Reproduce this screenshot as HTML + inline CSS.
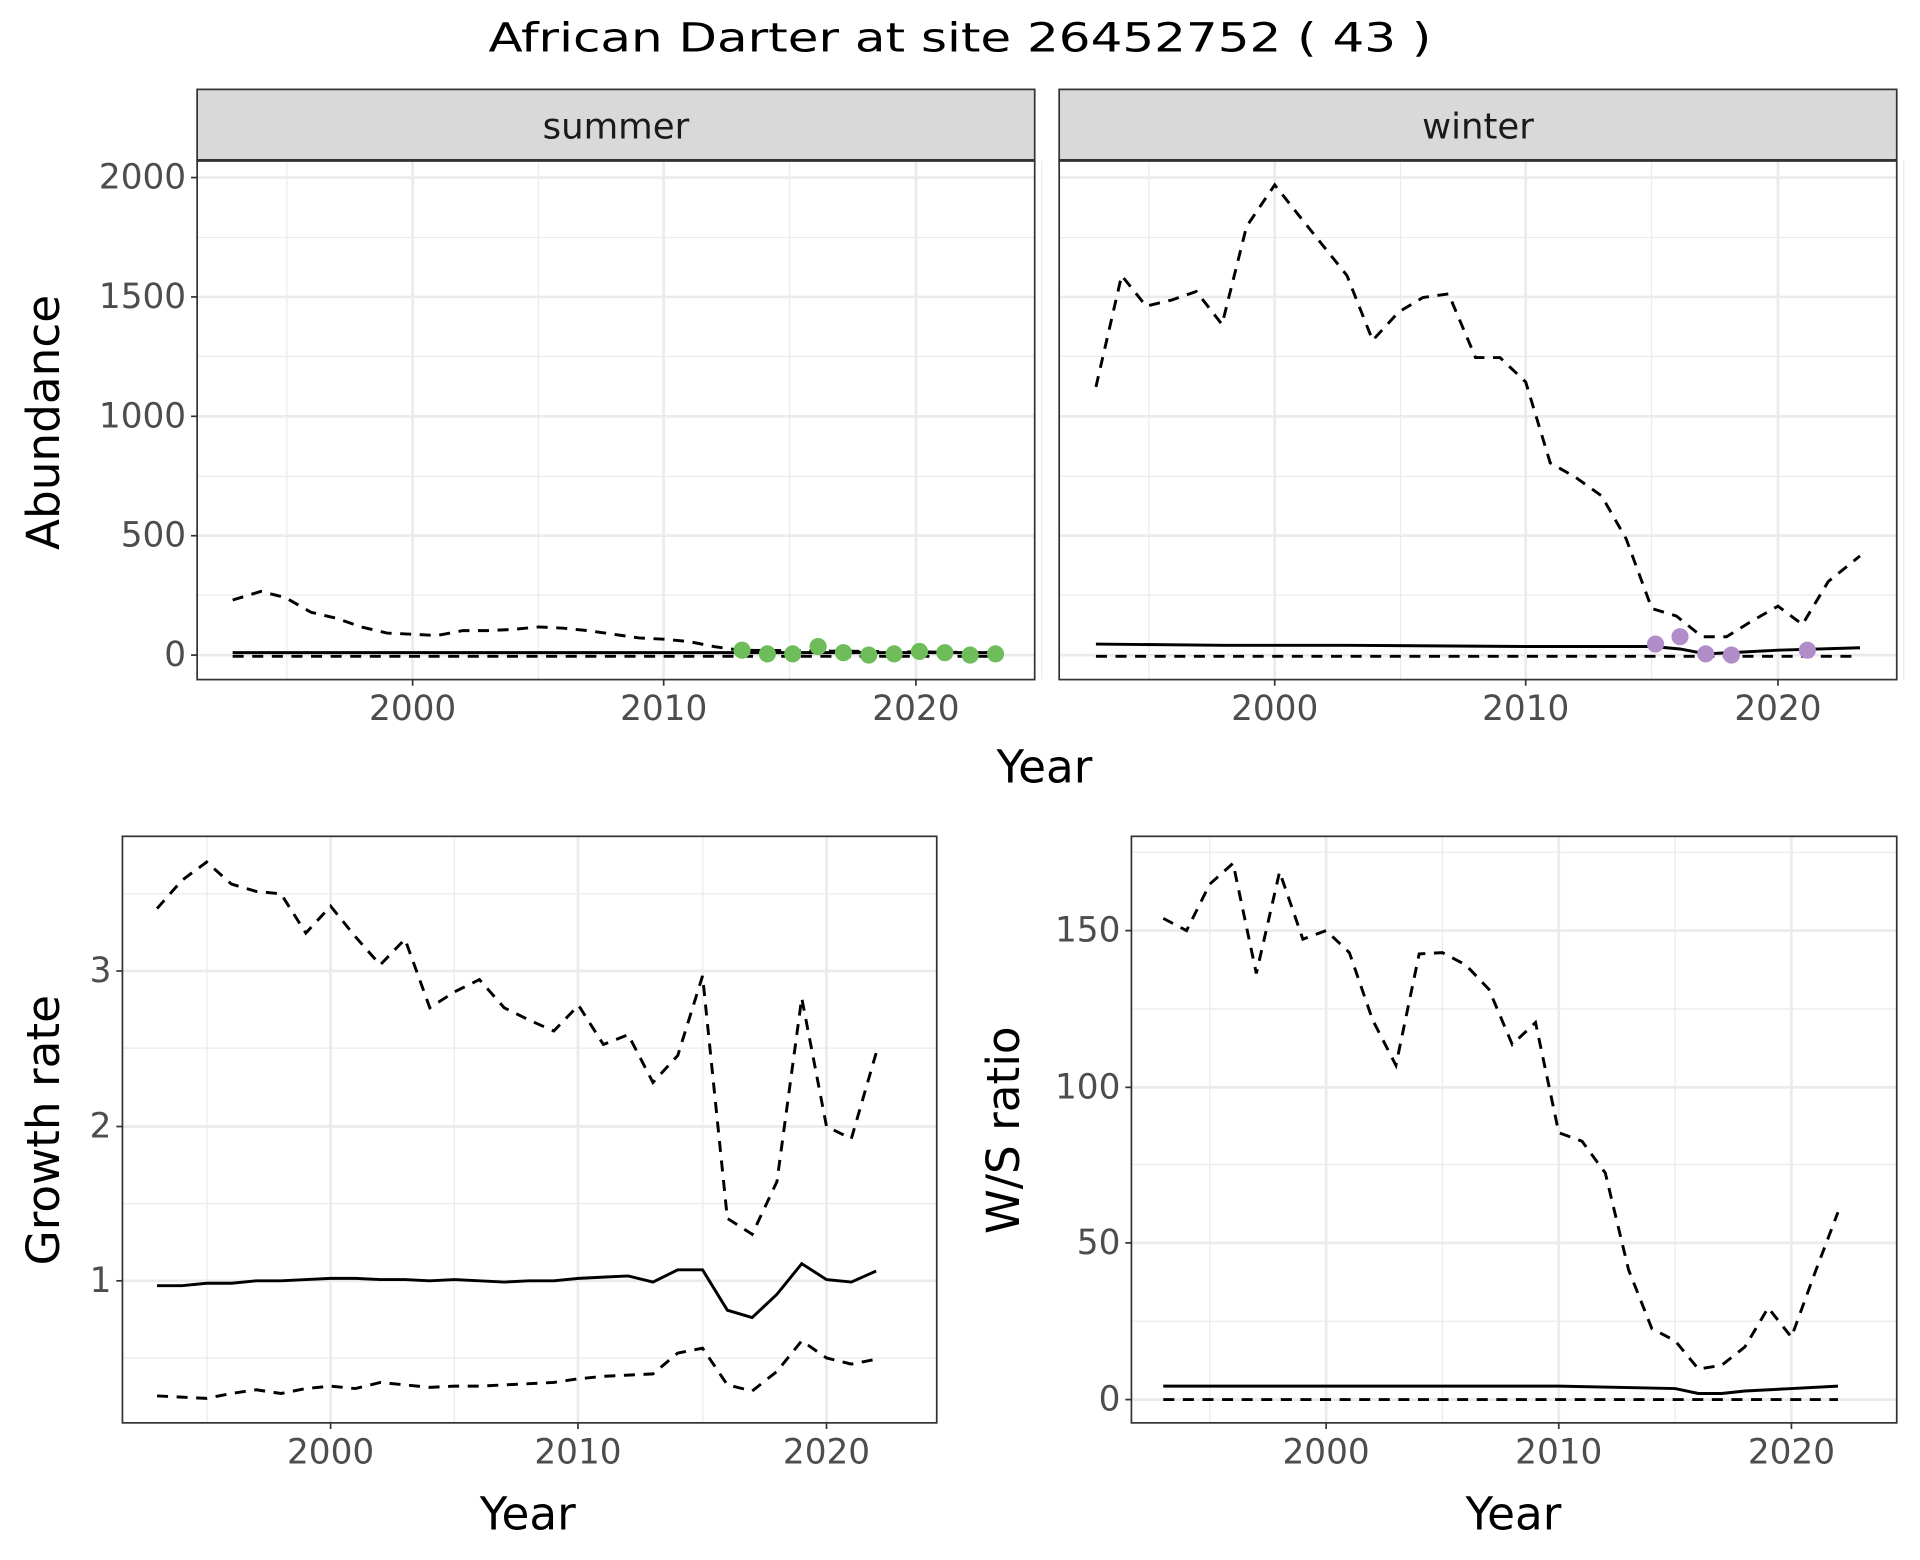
<!DOCTYPE html>
<html><head><meta charset="utf-8"><style>
html,body{margin:0;padding:0;background:#fff}
svg{display:block}
text{font-family:"DejaVu Sans","Liberation Sans",sans-serif}
</style></head><body>
<svg id="s" width="1920" height="1560" viewBox="0 0 1568 1274" preserveAspectRatio="none" xmlns="http://www.w3.org/2000/svg">
<rect width="1568" height="1274" fill="#fff"/>
<text x="784" y="42" font-size="33" text-anchor="middle" fill="#000" textLength="770" lengthAdjust="spacingAndGlyphs">African Darter at site 26452752 ( 43 )</text>
</svg>
<script>
const s=document.getElementById('s');let h='';
const L=(x1,y1,x2,y2,c,w,d)=>h+=`<line x1="${x1}" y1="${y1}" x2="${x2}" y2="${y2}" stroke="${c}" stroke-width="${w}"${d?` stroke-dasharray="${d}"`:''}/>`;
const P=(pts,d)=>h+=`<polyline points="${pts.map(p=>p.join(',')).join(' ')}" fill="none" stroke="#000" stroke-width="2.4"${d?' stroke-dasharray="9,7"':''}/>`;
const T=(x,y,t,sz,a,c,rot)=>h+=`<text x="${x}" y="${y}" font-size="${sz}" text-anchor="${a}" fill="${c}"${rot?` transform="rotate(-90 ${x} ${y})"`:''}>${t}</text>`;
function panel(x0,x1,y0,y1,xmaj,xmin,ymaj,ymin){
 ymin.forEach(y=>L(x0,y,x1,y,'#ebebeb',1));xmin.forEach(x=>L(x,y0,x,y1,'#ebebeb',1));
 ymaj.forEach(y=>L(x0,y,x1,y,'#ebebeb',2.2));xmaj.forEach(x=>L(x,y0,x,y1,'#ebebeb',2.2));
}
function frame(x0,x1,y0,y1){h+=`<rect x="${x0}" y="${y0}" width="${x1-x0}" height="${y1-y0}" fill="none" stroke="#333" stroke-width="1.4"/>`;}
function xt(xs,labs,y){xs.forEach((x,i)=>{L(x,y,x,y+5,'#333',1.4);T(x,y+33,labs[i],28,'middle','#4d4d4d')})}
function yt(ys,labs,x){ys.forEach((y,i)=>{L(x-5,y,x,y,'#333',1.4);T(x-9,y+9,labs[i],28,'end','#4d4d4d')})}
const tyM=[145,242.5,340,437.5,535],tym=[96,194,291,389,486];
[[161,845,337,542,748],[865,1549,1041,1246,1452]].forEach(([a,b,x2000,x2010,x2020])=>{
 const st=(x2020-x2000)/20;
 panel(a,b,131,555,[x2000,x2010,x2020],[x2000-5*st,x2000+5*st,x2010+5*st,x2020+5*st].filter(x=>x>a),tyM,tym);
 frame(a,b,131,555);
 h+=`<rect x="${a}" y="73" width="${b-a}" height="58" fill="#d9d9d9" stroke="#333" stroke-width="1.4"/>`;
 L(a,131,b,131,'#333',2.4);
 xt([x2000,x2010,x2020],['2000','2010','2020'],555);
});
T(503,113,'summer',29,'middle','#1a1a1a');T(1207,113,'winter',29,'middle','#1a1a1a');
yt(tyM.slice().reverse(),['0','500','1000','1500','2000'],161);
T(853,639,'Year',37,'middle','#000');T(48,345,'Abundance',37,'middle','#000',1);
P([[190,490],[213,483],[233,488],[254,500],[275,505],[295,512],[316,517],[337,518],[357,519],[378,515],[398,515],[419,514],[440,512],[460,513],[480,515],[501,518],[522,521],[542,522],[563,524],[583,528],[604,531],[813,533]],1);
P([[190,536],[813,536]],1);P([[190,533],[813,533]]);
[531,534,534,528,533,535,534,532,533,535,534].forEach((y,i)=>h+=`<circle cx="${606+i*20.7}" cy="${y}" r="7" fill="#6ebd5a"/>`);
P([[895,316],[916,225],[936,250],[957,245],[977,238],[998,265],[1018,185],[1041,151],[1060,175],[1080,200],[1100,225],[1121,278],[1142,255],[1162,243],[1183,240],[1205,292],[1225,292],[1246,312],[1266,378],[1287,390],[1308,405],[1328,440],[1349,497],[1369,503],[1390,520],[1410,520],[1431,507],[1452,495],[1472,510],[1493,475],[1519,454]],1);
P([[895,536],[1519,536]],1);
P([[895,526],[1000,527],[1100,527],[1250,528],[1350,528],[1372,530],[1393,534],[1414,533],[1452,531],[1519,529]]);
[[1352,526],[1372,520],[1393,534],[1414,535],[1476,531]].forEach(p=>h+=`<circle cx="${p[0]}" cy="${p[1]}" r="7" fill="#b08dc8"/>`);
const gx=y=>270+(y-2000)*20.25;
panel(100,765,683,1162,[270,472,675],[169,371,574],[793,920,1046],[730,856,983,1109]);frame(100,765,683,1162);
xt([270,472,675],['2000','2010','2020'],1162);yt([1046,920,793],['1','2','3'],100);
T(431,1249,'Year',37,'middle','#000');T(48,923,'Growth rate',37,'middle','#000',1);
const gu=[742,719,704,722,728,730,762,740,765,788,767,823,810,800,823,833,842,821,853,845,884,862,797,995,1008,965,815,920,930,860];
P(gu.map((y,i)=>[gx(1993+i),y]),1);
const gs=[1050,1050,1048,1048,1046,1046,1045,1044,1044,1045,1045,1046,1045,1046,1047,1046,1046,1044,1043,1042,1047,1037,1037,1070,1076,1057,1032,1045,1047,1038];
P(gs.map((y,i)=>[gx(1993+i),y]));
const gl=[1140,1141,1142,1138,1135,1138,1134,1132,1134,1129,1131,1133,1132,1132,1131,1130,1129,1126,1124,1123,1122,1105,1101,1131,1136,1120,1095,1109,1114,1110];
P(gl.map((y,i)=>[gx(1993+i),y]),1);
const wx=y=>1083+(y-2000)*19;
panel(924,1549,683,1162,[1083,1273,1463],[988,1178,1368],[760,888,1015,1143],[696,824,951,1079]);frame(924,1549,683,1162);
xt([1083,1273,1463],['2000','2010','2020'],1162);yt([1143,1015,888,760],['0','50','100','150'],924);
T(1236,1249,'Year',37,'middle','#000');T(832,923,'W/S ratio',37,'middle','#000',1);
const wu=[750,760,722,705,795,712,767,760,778,833,870,779,778,788,808,853,835,925,932,958,1037,1085,1095,1118,1115,1100,1068,1092,1040,990];
P(wu.map((y,i)=>[wx(1993+i),y]),1);
P([[wx(1993),1132],[wx(2010),1132],[wx(2015),1134],[wx(2016),1138],[wx(2017),1138],[wx(2018),1136],[wx(2020),1134],[wx(2022),1132]]);
P([[wx(1993),1143],[wx(2022),1143]],1);
s.insertAdjacentHTML('beforeend',h);
</script>
</body></html>
